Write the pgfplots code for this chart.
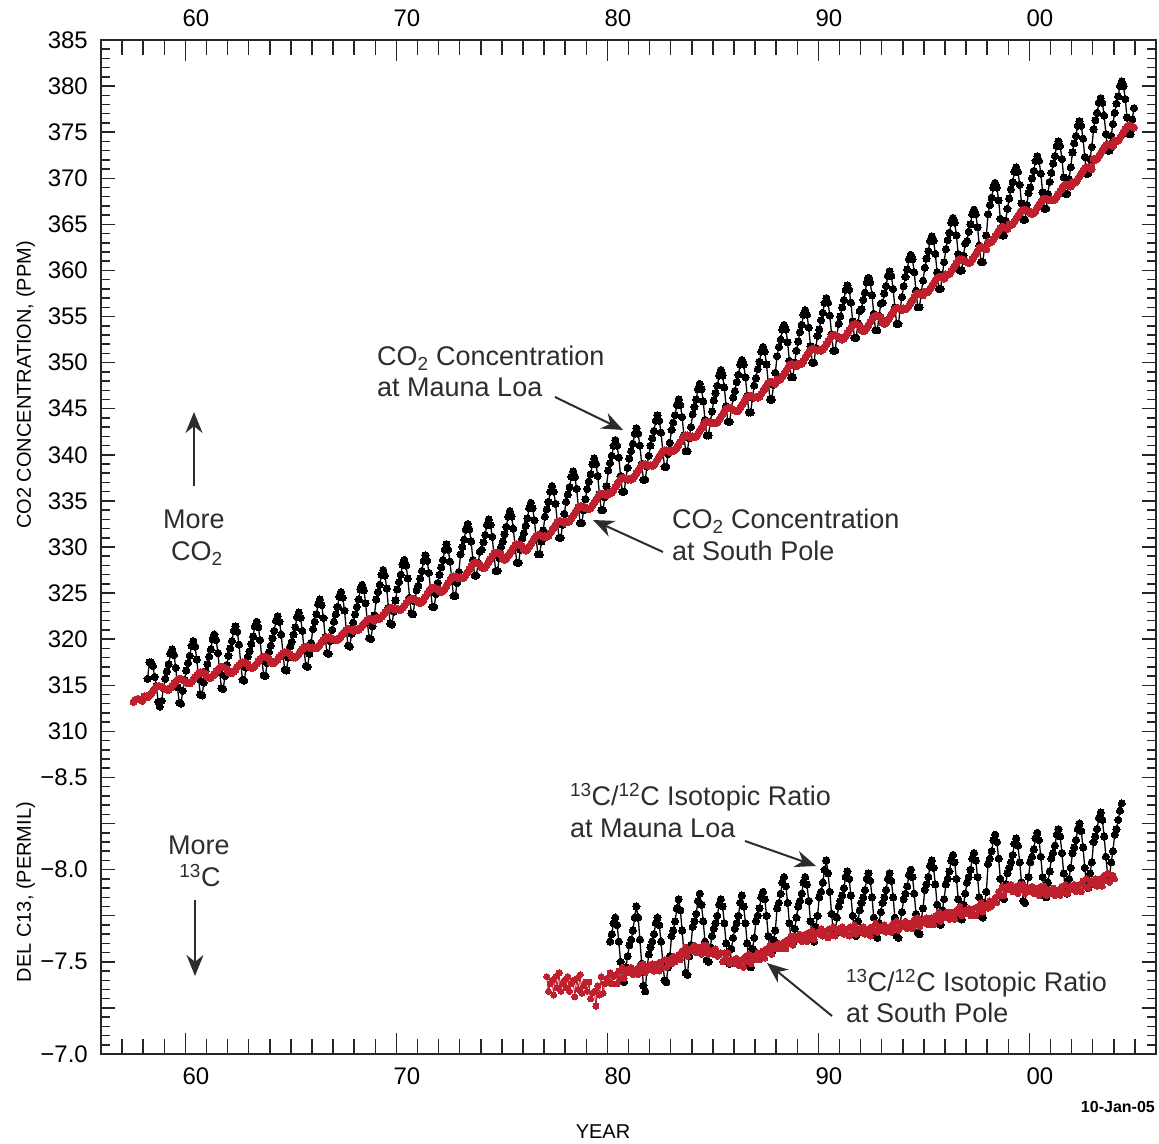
\documentclass[border=0pt]{standalone}
\usepackage{fontspec}
\setmainfont{Liberation Sans}
\usepackage{pgfplots}
\pgfplotsset{compat=1.18}
\usetikzlibrary{arrows.meta}
\definecolor{spred}{RGB}{192,32,45}
\definecolor{anno}{RGB}{45,45,45}
\newcommand{\annofont}{\fontsize{27}{32}\selectfont}
\newcommand{\tickfont}{\fontsize{24}{24}\selectfont}
\begin{document}
\begin{tikzpicture}
\pgfplotsset{
  base/.style={scale only axis, width=1055pt, height=1014pt, xmin=1956, xmax=2006,
    axis line style={line width=1.6pt, black!85}, tick style={line width=1.5pt, black!85},
    tick align=inside},
  mlo/.style={black, line width=1.3pt, mark=*, mark size=3.6pt, mark options={fill=black, draw=black, line width=0pt}},
  spo/.style={spred, mark=*, mark size=3.5pt, mark options={fill=spred, draw=spred, line width=0pt}},
}
% ---------- CO2 axis ----------
\begin{axis}[base, name=A, ymin=275, ymax=385,
  xtick=\empty,
  ytick={275,280,...,385}, minor ytick={275,276,...,385},
  yticklabels={−7.0,,−7.5,,−8.0,,−8.5,310,315,320,325,330,335,340,345,350,355,360,365,370,375,380,385},
  major tick length=14pt, minor tick length=9pt,
  yticklabel style={font=\tickfont, inner sep=0pt, xshift=-13pt}]
% Mauna Loa CO2, monthly from March 1958
\addplot[mlo] table[header=false, row sep=\\, x expr={1958+(\coordindex+2.5)/12}, y index=0] {
315.7\\317.5\\317.5\\317.1\\315.9\\314.9\\313.2\\312.7\\313.3\\314.7\\
315.7\\316.5\\317.3\\318.4\\318.9\\318.3\\316.9\\314.8\\313.1\\313.0\\314.4\\315.6\\
316.6\\317.4\\318.2\\319.3\\319.8\\319.2\\317.8\\315.7\\314.0\\313.9\\315.3\\316.5\\
317.3\\318.1\\318.9\\320.0\\320.5\\319.9\\318.5\\316.4\\314.7\\314.6\\316.0\\317.2\\
318.2\\319.0\\319.8\\320.9\\321.4\\320.8\\319.4\\317.3\\315.6\\315.5\\316.9\\318.1\\
318.7\\319.5\\320.3\\321.4\\321.9\\321.3\\319.9\\317.8\\316.1\\316.0\\317.4\\318.6\\
319.3\\320.1\\320.9\\322.0\\322.5\\321.9\\320.5\\318.4\\316.7\\316.6\\318.0\\319.2\\
319.7\\320.5\\321.3\\322.4\\322.9\\322.3\\320.9\\318.8\\317.1\\317.0\\318.4\\319.6\\
321.1\\321.9\\322.7\\323.8\\324.3\\323.7\\322.3\\320.2\\318.5\\318.4\\319.8\\321.0\\
321.9\\322.7\\323.5\\324.6\\325.1\\324.5\\323.1\\321.0\\319.3\\319.2\\320.6\\321.8\\
322.7\\323.5\\324.3\\325.4\\325.9\\325.3\\323.9\\321.8\\320.1\\320.0\\321.4\\322.6\\
324.3\\325.1\\325.9\\327.0\\327.5\\326.9\\325.5\\323.4\\321.7\\321.6\\323.0\\324.2\\
325.4\\326.2\\327.0\\328.1\\328.6\\328.0\\326.6\\324.5\\322.8\\322.7\\324.1\\325.3\\
325.8\\326.6\\327.4\\328.5\\329.1\\328.5\\327.2\\325.2\\323.5\\323.5\\324.9\\326.1\\
327.0\\327.8\\328.6\\329.7\\330.3\\329.7\\328.4\\326.4\\324.7\\324.7\\326.1\\327.3\\
329.2\\330.0\\330.8\\331.9\\332.5\\331.9\\330.6\\328.6\\326.9\\326.9\\328.3\\329.5\\
329.7\\330.5\\331.3\\332.4\\333.0\\332.4\\331.1\\329.1\\327.4\\327.4\\328.8\\330.0\\
330.6\\331.4\\332.2\\333.3\\333.9\\333.3\\332.0\\330.0\\328.3\\328.3\\329.7\\330.9\\
331.5\\332.3\\333.1\\334.2\\334.8\\334.2\\332.9\\330.9\\329.2\\329.2\\330.6\\331.8\\
333.3\\334.1\\334.9\\336.0\\336.6\\336.0\\334.7\\332.7\\331.0\\331.0\\332.4\\333.6\\
334.9\\335.7\\336.5\\337.6\\338.2\\337.6\\336.3\\334.3\\332.6\\332.6\\334.0\\335.2\\
336.3\\337.1\\337.9\\339.0\\339.6\\339.0\\337.7\\335.7\\334.0\\334.0\\335.4\\336.6\\
338.3\\339.1\\339.9\\341.0\\341.6\\341.0\\339.7\\337.7\\336.0\\336.0\\337.4\\338.6\\
339.6\\340.4\\341.2\\342.3\\342.9\\342.3\\341.0\\339.0\\337.3\\337.3\\338.7\\339.9\\
341.0\\341.8\\342.6\\343.7\\344.3\\343.7\\342.4\\340.4\\338.7\\338.7\\340.1\\341.3\\
342.7\\343.5\\344.3\\345.4\\346.0\\345.4\\344.1\\342.1\\340.4\\340.4\\341.8\\343.0\\
344.4\\345.2\\346.0\\347.1\\347.7\\347.1\\345.8\\343.8\\342.1\\342.1\\343.5\\344.7\\
345.9\\346.7\\347.5\\348.6\\349.2\\348.6\\347.3\\345.3\\343.6\\343.6\\345.0\\346.2\\
346.9\\347.9\\348.7\\349.8\\350.3\\349.8\\348.4\\346.4\\344.6\\344.6\\346.2\\347.5\\
348.3\\349.3\\350.1\\351.2\\351.7\\351.2\\349.8\\347.8\\346.0\\346.0\\347.6\\348.9\\
350.7\\351.7\\352.5\\353.6\\354.1\\353.6\\352.2\\350.2\\348.4\\348.4\\350.0\\351.3\\
352.3\\353.3\\354.1\\355.2\\355.7\\355.2\\353.8\\351.8\\350.0\\350.0\\351.6\\352.9\\
353.6\\354.6\\355.4\\356.5\\357.0\\356.5\\355.1\\353.1\\351.3\\351.3\\352.9\\354.2\\
355.0\\356.0\\356.8\\357.9\\358.4\\357.9\\356.5\\354.5\\352.7\\352.7\\354.3\\355.6\\
355.8\\356.8\\357.6\\358.7\\359.2\\358.7\\357.3\\355.3\\353.5\\353.5\\355.1\\356.4\\
356.5\\357.5\\358.3\\359.4\\359.9\\359.4\\358.0\\356.0\\354.2\\354.2\\355.8\\357.1\\
358.3\\359.3\\360.1\\361.2\\361.7\\361.2\\359.8\\357.8\\356.0\\356.0\\357.6\\358.9\\
360.3\\361.3\\362.1\\363.2\\363.7\\363.2\\361.8\\359.8\\358.0\\358.0\\359.6\\360.9\\
362.3\\363.3\\364.1\\365.2\\365.7\\365.2\\363.8\\361.8\\360.0\\360.0\\361.6\\362.9\\
363.2\\364.2\\365.0\\366.1\\366.6\\366.1\\364.7\\362.7\\360.9\\360.9\\362.5\\363.8\\
366.1\\367.1\\367.9\\369.0\\369.5\\369.0\\367.6\\365.6\\363.8\\363.8\\365.4\\366.7\\
367.8\\368.8\\369.6\\370.7\\371.2\\370.7\\369.3\\367.3\\365.5\\365.5\\367.1\\368.4\\
369.0\\370.0\\370.8\\371.9\\372.4\\371.9\\370.5\\368.5\\366.7\\366.7\\368.3\\369.6\\
370.6\\371.6\\372.4\\373.5\\374.0\\373.5\\372.1\\370.1\\368.3\\368.3\\369.9\\371.2\\
372.8\\373.8\\374.6\\375.7\\376.2\\375.7\\374.3\\372.3\\370.5\\370.5\\372.1\\373.4\\
375.3\\376.3\\377.1\\378.2\\378.7\\378.2\\376.8\\374.8\\373.0\\373.0\\374.6\\375.9\\
377.1\\378.1\\378.9\\380.0\\380.5\\380.0\\378.6\\376.6\\374.8\\374.8\\376.4\\377.6\\
};
% South Pole CO2, monthly from July 1957
\addplot[spo, line width=4.5pt] table[header=false, row sep=\\, x expr={1957+(\coordindex+6.5)/12}, y index=0] {
313.2\\313.4\\313.5\\313.5\\313.4\\313.3\\
313.8\\313.7\\313.7\\313.9\\314.1\\314.4\\314.6\\314.8\\314.9\\314.9\\314.8\\314.7\\
314.6\\314.5\\314.5\\314.7\\314.9\\315.2\\315.4\\315.6\\315.7\\315.7\\315.6\\315.5\\
315.3\\315.2\\315.2\\315.4\\315.6\\315.9\\316.1\\316.3\\316.4\\316.4\\316.3\\316.2\\
315.9\\315.8\\315.8\\316.0\\316.2\\316.5\\316.7\\316.9\\317.0\\317.0\\316.9\\316.8\\
316.4\\316.3\\316.3\\316.5\\316.7\\317.0\\317.2\\317.4\\317.5\\317.5\\317.4\\317.3\\
317.0\\316.9\\316.9\\317.1\\317.3\\317.6\\317.8\\318.0\\318.1\\318.1\\318.0\\317.9\\
317.5\\317.4\\317.4\\317.6\\317.8\\318.1\\318.3\\318.5\\318.6\\318.6\\318.5\\318.4\\
318.1\\318.0\\318.0\\318.2\\318.4\\318.7\\318.9\\319.1\\319.2\\319.2\\319.1\\319.0\\
319.1\\319.0\\319.0\\319.2\\319.4\\319.7\\319.9\\320.1\\320.2\\320.2\\320.1\\320.0\\
320.0\\319.9\\319.9\\320.1\\320.3\\320.6\\320.8\\321.0\\321.1\\321.1\\321.0\\320.9\\
321.1\\321.0\\321.0\\321.2\\321.4\\321.7\\321.9\\322.1\\322.2\\322.2\\322.1\\322.0\\
322.3\\322.2\\322.2\\322.4\\322.6\\322.9\\323.1\\323.3\\323.4\\323.4\\323.3\\323.2\\
323.3\\323.2\\323.2\\323.4\\323.6\\323.9\\324.1\\324.3\\324.4\\324.4\\324.3\\324.2\\
324.0\\323.9\\324.0\\324.3\\324.6\\324.9\\325.2\\325.5\\325.6\\325.6\\325.5\\325.4\\
325.2\\325.1\\325.2\\325.5\\325.8\\326.1\\326.4\\326.7\\326.8\\326.8\\326.7\\326.6\\
326.7\\326.6\\326.7\\327.0\\327.3\\327.6\\327.9\\328.2\\328.3\\328.3\\328.2\\328.1\\
327.8\\327.7\\327.8\\328.1\\328.4\\328.7\\329.0\\329.3\\329.4\\329.4\\329.3\\329.2\\
328.7\\328.6\\328.7\\329.0\\329.3\\329.6\\329.9\\330.2\\330.3\\330.3\\330.2\\330.1\\
329.7\\329.6\\329.7\\330.0\\330.3\\330.6\\330.9\\331.2\\331.3\\331.3\\331.2\\331.1\\
331.2\\331.1\\331.2\\331.5\\331.8\\332.1\\332.4\\332.7\\332.8\\332.8\\332.7\\332.6\\
332.8\\332.7\\332.8\\333.1\\333.4\\333.7\\334.0\\334.3\\334.4\\334.4\\334.3\\334.2\\
334.2\\334.1\\334.2\\334.5\\334.8\\335.1\\335.4\\335.7\\335.8\\335.8\\335.7\\335.6\\
335.9\\335.8\\335.9\\336.2\\336.5\\336.8\\337.1\\337.4\\337.5\\337.5\\337.4\\337.3\\
337.4\\337.3\\337.4\\337.7\\338.0\\338.3\\338.6\\338.9\\339.0\\339.0\\338.9\\338.8\\
338.9\\338.8\\338.9\\339.2\\339.5\\339.8\\340.1\\340.4\\340.5\\340.5\\340.4\\340.3\\
340.5\\340.4\\340.5\\340.8\\341.1\\341.4\\341.7\\342.0\\342.1\\342.1\\342.0\\341.9\\
342.0\\341.9\\342.0\\342.3\\342.6\\342.9\\343.2\\343.5\\343.6\\343.6\\343.5\\343.4\\
343.5\\343.4\\343.5\\343.8\\344.1\\344.4\\344.7\\345.0\\345.1\\345.1\\345.0\\344.9\\
344.8\\344.7\\344.8\\345.1\\345.4\\345.7\\346.0\\346.3\\346.4\\346.4\\346.3\\346.2\\
346.3\\346.2\\346.3\\346.6\\346.9\\347.2\\347.5\\347.8\\347.9\\347.9\\347.8\\347.7\\
348.2\\348.1\\348.2\\348.5\\348.8\\349.1\\349.4\\349.7\\349.8\\349.8\\349.7\\349.6\\
349.9\\349.8\\349.9\\350.2\\350.5\\350.8\\351.1\\351.4\\351.5\\351.5\\351.4\\351.3\\
351.4\\351.3\\351.4\\351.7\\352.0\\352.3\\352.6\\352.9\\353.0\\353.0\\352.9\\352.8\\
352.6\\352.5\\352.6\\352.9\\353.2\\353.5\\353.8\\354.1\\354.2\\354.2\\354.1\\354.0\\
353.5\\353.4\\353.5\\353.8\\354.1\\354.4\\354.7\\355.0\\355.1\\355.1\\355.0\\354.9\\
354.3\\354.2\\354.3\\354.6\\354.9\\355.2\\355.5\\355.8\\355.9\\355.9\\355.8\\355.7\\
355.9\\355.8\\355.9\\356.2\\356.5\\356.8\\357.1\\357.4\\357.5\\357.5\\357.4\\357.3\\
357.7\\357.6\\357.7\\358.0\\358.3\\358.6\\358.9\\359.2\\359.3\\359.3\\359.2\\359.1\\
359.6\\359.5\\359.6\\359.9\\360.2\\360.5\\360.8\\361.1\\361.2\\361.2\\361.1\\361.0\\
360.9\\360.8\\360.9\\361.2\\361.5\\361.8\\362.1\\362.4\\362.5\\362.5\\362.4\\362.3\\
363.1\\363.0\\363.1\\363.4\\363.7\\364.0\\364.3\\364.6\\364.7\\364.7\\364.6\\364.5\\
365.0\\364.9\\365.0\\365.3\\365.6\\365.9\\366.2\\366.5\\366.6\\366.6\\366.5\\366.4\\
366.2\\366.1\\366.2\\366.5\\366.8\\367.1\\367.4\\367.7\\367.8\\367.8\\367.7\\367.6\\
367.7\\367.6\\367.7\\368.0\\368.3\\368.6\\368.9\\369.2\\369.3\\369.3\\369.2\\369.1\\
369.6\\369.5\\369.6\\369.9\\370.2\\370.5\\370.8\\371.1\\371.2\\371.2\\371.1\\371.0\\
372.1\\372.0\\372.1\\372.4\\372.7\\373.0\\373.3\\373.6\\373.7\\373.7\\373.6\\373.5\\
374.1\\374.0\\374.1\\374.4\\374.7\\375.0\\375.3\\375.6\\375.7\\375.7\\375.6\\375.5\\
};
\end{axis}
% ---------- delta 13C axis ----------
\begin{axis}[base, ymin=-12.5, ymax=-7.0, y dir=reverse, ytick=\empty,
  xtick={1960,1970,...,2000}, minor xtick={1957,1958,...,2005},
  xticklabels={60,70,80,90,00},
  major tick length=21pt, minor tick length=15pt,
  xticklabel style={font=\tickfont, inner sep=0pt, xshift=10.5pt, yshift=-14pt}]
% Mauna Loa d13C, monthly from Feb 1980
\addplot[mlo] table[header=false, row sep=\\, x expr={1980+(\coordindex+1.5)/12}, y index=0] {
-7.61\\-7.65\\-7.71\\-7.74\\-7.70\\-7.61\\-7.50\\-7.40\\-7.39\\-7.47\\-7.53\\
-7.59\\-7.62\\-7.67\\-7.74\\-7.80\\-7.74\\-7.62\\-7.49\\-7.37\\-7.34\\-7.46\\-7.54\\
-7.58\\-7.61\\-7.65\\-7.71\\-7.74\\-7.70\\-7.61\\-7.50\\-7.40\\-7.39\\-7.47\\-7.53\\
-7.64\\-7.67\\-7.72\\-7.79\\-7.84\\-7.78\\-7.67\\-7.55\\-7.44\\-7.43\\-7.53\\-7.59\\
-7.69\\-7.72\\-7.76\\-7.83\\-7.87\\-7.81\\-7.72\\-7.61\\-7.51\\-7.50\\-7.58\\-7.64\\
-7.68\\-7.71\\-7.75\\-7.81\\-7.84\\-7.80\\-7.71\\-7.60\\-7.50\\-7.49\\-7.57\\-7.63\\
-7.68\\-7.71\\-7.75\\-7.82\\-7.86\\-7.80\\-7.71\\-7.60\\-7.49\\-7.47\\-7.57\\-7.63\\
-7.72\\-7.75\\-7.79\\-7.85\\-7.88\\-7.84\\-7.75\\-7.64\\-7.56\\-7.55\\-7.62\\-7.67\\
-7.79\\-7.82\\-7.87\\-7.93\\-7.96\\-7.91\\-7.82\\-7.71\\-7.61\\-7.60\\-7.68\\-7.74\\
-7.80\\-7.83\\-7.87\\-7.93\\-7.96\\-7.92\\-7.83\\-7.72\\-7.62\\-7.61\\-7.69\\-7.75\\
-7.85\\-7.88\\-7.93\\-8.00\\-8.05\\-7.98\\-7.88\\-7.76\\-7.66\\-7.65\\-7.74\\-7.80\\
-7.83\\-7.86\\-7.90\\-7.96\\-7.99\\-7.95\\-7.86\\-7.75\\-7.65\\-7.64\\-7.72\\-7.78\\
-7.82\\-7.85\\-7.89\\-7.95\\-7.98\\-7.94\\-7.85\\-7.74\\-7.64\\-7.63\\-7.71\\-7.77\\
-7.82\\-7.85\\-7.89\\-7.95\\-7.98\\-7.94\\-7.85\\-7.74\\-7.64\\-7.63\\-7.71\\-7.77\\
-7.84\\-7.87\\-7.91\\-7.97\\-8.00\\-7.96\\-7.87\\-7.76\\-7.66\\-7.65\\-7.73\\-7.79\\
-7.89\\-7.92\\-7.96\\-8.02\\-8.05\\-8.01\\-7.92\\-7.81\\-7.71\\-7.70\\-7.78\\-7.84\\
-7.92\\-7.95\\-7.99\\-8.05\\-8.08\\-8.04\\-7.95\\-7.84\\-7.74\\-7.73\\-7.81\\-7.87\\
-7.93\\-7.96\\-8.00\\-8.06\\-8.09\\-8.05\\-7.96\\-7.85\\-7.75\\-7.74\\-7.82\\-7.88\\
-8.03\\-8.06\\-8.10\\-8.16\\-8.19\\-8.15\\-8.06\\-7.95\\-7.85\\-7.84\\-7.92\\-7.98\\
-8.01\\-8.04\\-8.08\\-8.14\\-8.17\\-8.13\\-8.04\\-7.93\\-7.83\\-7.82\\-7.90\\-7.96\\
-8.04\\-8.07\\-8.11\\-8.17\\-8.20\\-8.16\\-8.07\\-7.96\\-7.86\\-7.85\\-7.93\\-7.99\\
-8.06\\-8.09\\-8.13\\-8.19\\-8.22\\-8.18\\-8.09\\-7.98\\-7.88\\-7.87\\-7.95\\-8.01\\
-8.09\\-8.12\\-8.16\\-8.22\\-8.25\\-8.21\\-8.12\\-8.01\\-7.91\\-7.90\\-7.98\\-8.04\\
-8.15\\-8.18\\-8.22\\-8.28\\-8.31\\-8.27\\-8.18\\-8.07\\-7.97\\-7.96\\-8.04\\-8.10\\
-8.19\\-8.22\\-8.27\\-8.32\\-8.36\\
};
% South Pole d13C, monthly from Feb 1977
\addplot[spo, mark size=3pt, line width=1pt] table[header=false, row sep=\\, x expr={1977+(\coordindex+1.5)/12}, y index=0] {
-7.42\\-7.34\\-7.38\\-7.40\\-7.32\\-7.42\\-7.36\\-7.44\\-7.34\\-7.38\\-7.40\\
-7.36\\-7.42\\-7.34\\-7.38\\-7.40\\-7.31\\-7.41\\-7.35\\-7.43\\-7.33\\-7.37\\-7.39\\
-7.34\\-7.39\\-7.30\\-7.33\\-7.34\\-7.26\\-7.37\\-7.32\\-7.42\\-7.33\\-7.38\\-7.41\\
-7.39\\-7.44\\-7.38\\-7.42\\-7.43\\-7.38\\-7.45\\-7.41\\-7.47\\-7.41\\-7.44\\-7.46\\
-7.44\\-7.47\\-7.43\\-7.45\\-7.46\\-7.43\\-7.48\\-7.45\\-7.49\\-7.44\\-7.47\\-7.48\\
-7.46\\-7.49\\-7.45\\-7.48\\-7.49\\-7.45\\-7.50\\-7.47\\-7.51\\-7.47\\-7.49\\-7.51\\
-7.49\\-7.53\\-7.50\\-7.52\\-7.54\\-7.51\\-7.56\\-7.54\\-7.58\\-7.53\\-7.56\\-7.57\\
-7.56\\-7.59\\-7.55\\-7.57\\-7.58\\-7.54\\-7.59\\-7.56\\-7.59\\-7.54\\-7.56\\-7.56\\
-7.54\\-7.57\\-7.53\\-7.54\\-7.55\\-7.50\\-7.55\\-7.52\\-7.55\\-7.49\\-7.51\\-7.51\\
-7.49\\-7.52\\-7.48\\-7.50\\-7.51\\-7.47\\-7.53\\-7.50\\-7.54\\-7.49\\-7.51\\-7.53\\
-7.51\\-7.55\\-7.51\\-7.54\\-7.56\\-7.52\\-7.57\\-7.55\\-7.59\\-7.54\\-7.57\\-7.59\\
-7.57\\-7.60\\-7.57\\-7.60\\-7.61\\-7.57\\-7.62\\-7.60\\-7.64\\-7.59\\-7.62\\-7.64\\
-7.62\\-7.65\\-7.61\\-7.64\\-7.65\\-7.61\\-7.66\\-7.63\\-7.67\\-7.62\\-7.65\\-7.66\\
-7.65\\-7.68\\-7.64\\-7.66\\-7.67\\-7.63\\-7.68\\-7.65\\-7.69\\-7.64\\-7.67\\-7.68\\
-7.66\\-7.69\\-7.65\\-7.67\\-7.68\\-7.64\\-7.69\\-7.66\\-7.70\\-7.65\\-7.67\\-7.68\\
-7.66\\-7.69\\-7.65\\-7.67\\-7.68\\-7.64\\-7.69\\-7.67\\-7.71\\-7.66\\-7.68\\-7.69\\
-7.67\\-7.70\\-7.66\\-7.68\\-7.69\\-7.66\\-7.71\\-7.68\\-7.72\\-7.67\\-7.70\\-7.71\\
-7.69\\-7.72\\-7.68\\-7.70\\-7.71\\-7.68\\-7.73\\-7.70\\-7.74\\-7.69\\-7.72\\-7.73\\
-7.71\\-7.74\\-7.70\\-7.72\\-7.74\\-7.70\\-7.75\\-7.73\\-7.77\\-7.72\\-7.75\\-7.76\\
-7.74\\-7.77\\-7.73\\-7.75\\-7.77\\-7.73\\-7.78\\-7.76\\-7.80\\-7.75\\-7.77\\-7.78\\
-7.76\\-7.79\\-7.75\\-7.78\\-7.79\\-7.75\\-7.80\\-7.78\\-7.82\\-7.77\\-7.80\\-7.81\\
-7.79\\-7.83\\-7.80\\-7.83\\-7.85\\-7.82\\-7.88\\-7.86\\-7.91\\-7.86\\-7.89\\-7.91\\
-7.89\\-7.92\\-7.88\\-7.90\\-7.91\\-7.87\\-7.92\\-7.89\\-7.92\\-7.87\\-7.89\\-7.90\\
-7.88\\-7.91\\-7.87\\-7.89\\-7.90\\-7.86\\-7.91\\-7.88\\-7.91\\-7.86\\-7.88\\-7.89\\
-7.87\\-7.90\\-7.86\\-7.88\\-7.89\\-7.86\\-7.91\\-7.88\\-7.92\\-7.87\\-7.89\\-7.91\\
-7.89\\-7.92\\-7.88\\-7.91\\-7.92\\-7.88\\-7.94\\-7.91\\-7.95\\-7.90\\-7.93\\-7.94\\
-7.92\\-7.95\\-7.91\\-7.94\\-7.95\\-7.91\\-7.97\\-7.94\\-7.98\\-7.93\\-7.96\\-7.97\\
-7.95\\
};
\end{axis}
% ---------- top tick labels ----------
\begin{axis}[base, ymin=0, ymax=1, ytick=\empty, axis line style={draw=none},
  xtick={1960,1970,...,2000}, xticklabels={60,70,80,90,00},
  xticklabel pos=upper, major tick length=0pt, tick style={draw=none},
  xticklabel style={font=\tickfont, inner sep=0pt, xshift=10.5pt, yshift=13pt}]
\end{axis}
% ---------- annotations (image pixel coordinates) ----------
\begin{scope}[shift={(A.south west)}, xshift=-101pt, yshift=1054pt, x=1pt, y=-1pt]
\tikzset{ann/.style={inner sep=0pt, font=\annofont, text=anno},
         arr/.style={anno, line width=2pt, -{Stealth[length=21pt, width=17pt]}}}
\node[ann, anchor=base west] at (377,366) {CO\textsubscript{2} Concentration};
\node[ann, anchor=base west] at (377,397) {at Mauna Loa};
\draw[arr] (555,397) -- (623,430);
\node[ann, anchor=base west] at (672,529) {CO\textsubscript{2} Concentration};
\node[ann, anchor=base west] at (672,561) {at South Pole};
\draw[arr] (663,552) -- (593,520);
\node[ann, anchor=base] at (194,529) {More};
\node[ann, anchor=base] at (197,561) {CO\textsubscript{2}};
\draw[arr] (194,486) -- (194,412);
\node[ann, anchor=base] at (199,855) {More};
\node[ann, anchor=base] at (200,887) {\textsuperscript{13}C};
\draw[arr] (195,900) -- (195,976);
\node[ann, anchor=base west] at (570,806) {\textsuperscript{13}C/\textsuperscript{12}C Isotopic Ratio};
\node[ann, anchor=base west] at (570,838) {at Mauna Loa};
\draw[arr] (745,841) -- (816,866);
\node[ann, anchor=base west] at (846,992) {\textsuperscript{13}C/\textsuperscript{12}C Isotopic Ratio};
\node[ann, anchor=base west] at (846,1023) {at South Pole};
\draw[arr] (832,1016) -- (767,963);
\node[rotate=90, anchor=base, inner sep=0pt, font=\fontsize{20}{20}\selectfont] at (31,385) {CO2 CONCENTRATION, (PPM)};
\node[rotate=90, anchor=base, inner sep=0pt, font=\fontsize{20}{20}\selectfont] at (31,892) {DEL C13, (PERMIL)};
\node[anchor=base, inner sep=0pt, font=\fontsize{20}{20}\selectfont] at (603,1138) {YEAR};
\node[anchor=base east, inner sep=0pt, font=\bfseries\fontsize{16}{16}\selectfont] at (1155,1112) {10-Jan-05};
\path[use as bounding box] (0,0) rectangle (1159,1143);
\end{scope}
\end{tikzpicture}
\end{document}
